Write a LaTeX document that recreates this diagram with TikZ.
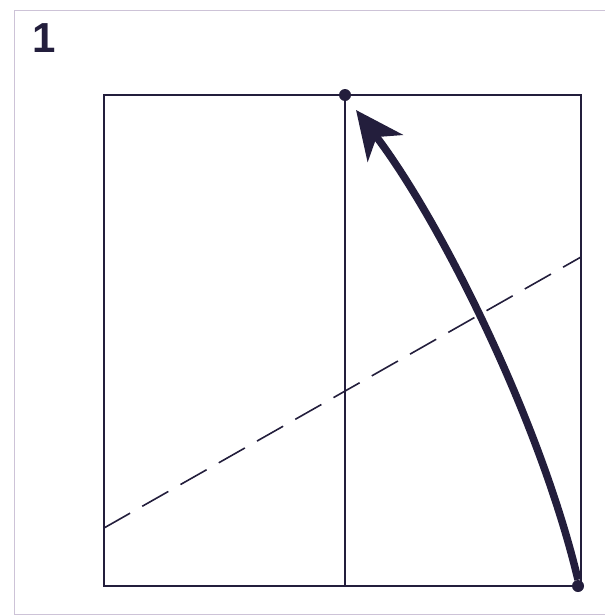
\documentclass[tikz,border=0pt]{standalone}
\usepackage{fontspec}
\setmainfont{Liberation Sans}
\usetikzlibrary{arrows.meta}
\definecolor{ink}{RGB}{35,30,60}
\definecolor{framegray}{RGB}{205,195,215}
\tikzset{
  edgeline/.style={draw=ink, line width=1.8pt},
  foldline/.style={draw=ink, line width=1.6pt, dash pattern=on 30pt off 14pt},
  bigarrow/.style={draw=ink, line width=7.5pt, -{Stealth[length=48pt,width=44pt,inset=14pt]}},
  dotmark/.style={circle, fill=ink, inner sep=0pt, minimum size=12pt},
}
\begin{document}
\begin{tikzpicture}[x=1pt,y=-1pt]
\useasboundingbox (0,0) rectangle (605,616);
\draw[framegray, line width=1pt] (605,10) -- (14,10) -- (14,614) -- (605,614);
\node[font=\bfseries\fontsize{42}{42}\selectfont, text=ink, inner sep=0pt] (num) at (44,38) {1};
% square
\coordinate (tl) at (104,95);
\coordinate (tr) at (581,95);
\coordinate (br) at (581,586);
\coordinate (bl) at (104,586);
\coordinate (mt) at (345,95);
\coordinate (mb) at (345,586);
\draw[edgeline] (tl) -- (tr) -- (br) -- (bl) -- cycle;
\draw[ink, line width=1.3pt] (mt) -- (mb);
% dashed fold
\coordinate (dl) at (104,528);
\coordinate (dr) at (581,257);
\draw[foldline] (dl) -- (dr);
% dots
\node[dotmark] (dtop) at (345,95) {};
\node[dotmark] (dbot) at (578,586) {};
% arrow
\coordinate (tip) at (356,110);
\draw[bigarrow] (dbot.north) .. controls (540,420) and (440,220) .. (tip);
\end{tikzpicture}
\end{document}
